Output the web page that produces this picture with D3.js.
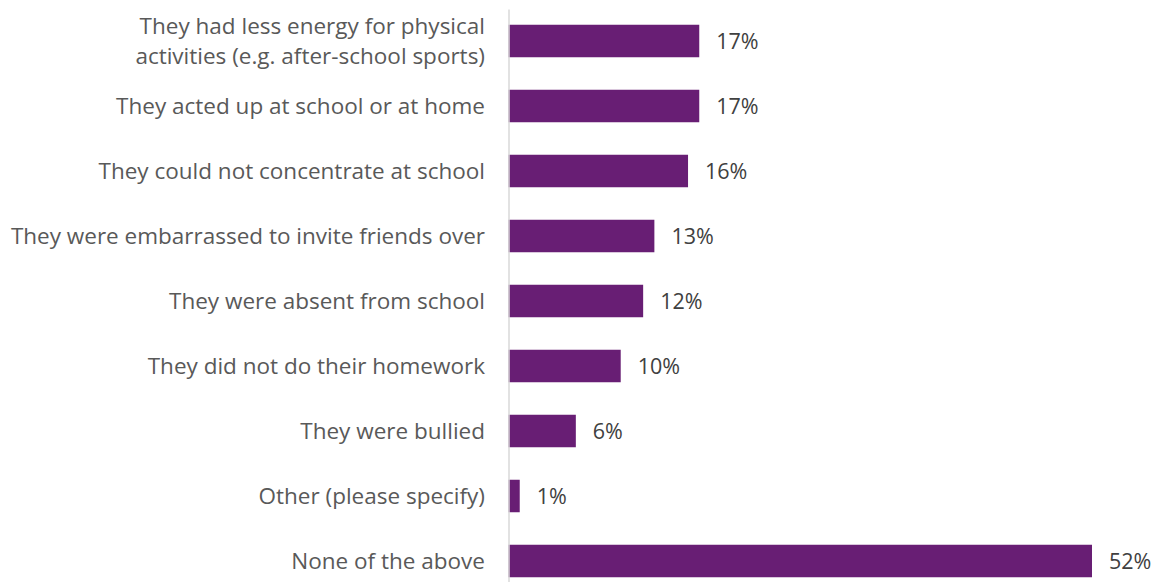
<!DOCTYPE html>
<html>
<head>
<meta charset="utf-8">
<script src="https://cdn.jsdelivr.net/npm/d3@7"></script>
<style>
  html, body { margin: 0; padding: 0; background: #ffffff; }
  svg { display: block; }
</style>
</head>
<body>
<svg id="chart" width="1161" height="582"></svg>
<script>
// Survey responses: effects on children (share of respondents)
const categories = [
  ["They had less energy for physical", "activities (e.g. after-school sports)"],
  ["They acted up at school or at home"],
  ["They could not concentrate at school"],
  ["They were embarrassed to invite friends over"],
  ["They were absent from school"],
  ["They did not do their homework"],
  ["They were bullied"],
  ["Other (please specify)"],
  ["None of the above"]
];
const values = [17, 17, 16, 13, 12, 10, 6, 1, 52];
const valueLabels = ["17%", "17%", "16%", "13%", "12%", "10%", "6%", "1%", "52%"];

const svg = d3.select("#chart");
const FONT = "'Open Sans', 'Liberation Sans', sans-serif";

const x = d3.scaleLinear().domain([0, 52]).range([508.5, 1092]);
const y = d3.scaleBand()
  .domain(d3.range(categories.length))
  .range([8.5, 593.5])
  .paddingInner(0.5)
  .paddingOuter(0.25);

// bars
svg.append("g")
  .selectAll("rect")
  .data(values)
  .join("rect")
  .attr("x", x(0))
  .attr("y", (d, i) => y(i))
  .attr("width", d => x(d) - x(0))
  .attr("height", y.bandwidth())
  .attr("fill", "#681e74");

// vertical axis line
const axis = svg.append("g")
  .attr("transform", `translate(${x(0)},0)`)
  .call(d3.axisLeft(d3.scaleLinear().range([9, 582])).ticks(0).tickSizeOuter(0));
axis.selectAll("text").remove();
axis.select(".domain").attr("stroke", "#d9d9d9").attr("stroke-width", 1.5);

// category labels
const cat = svg.append("g")
  .selectAll("text")
  .data(categories)
  .join("text")
  .attr("x", 485)
  .attr("y", (d, i) => y(i) + y.bandwidth() / 2)
  .attr("text-anchor", "end")
  .attr("font-family", FONT)
  .attr("font-size", 22.5)
  .attr("fill", "#595959");
cat.each(function(lines) {
  const t = d3.select(this);
  const lh = 30;
  const y0 = -((lines.length - 1) * lh) / 2;
  lines.forEach((ln, k) => {
    t.append("tspan")
      .attr("x", 485)
      .attr("dy", k === 0 ? y0 + 8 : lh)
      .text(ln);
  });
});

// value labels
svg.append("g")
  .selectAll("text")
  .data(values)
  .join("text")
  .attr("x", d => x(d) + 17)
  .attr("y", (d, i) => y(i) + y.bandwidth() / 2 + 8)
  .attr("font-family", FONT)
  .attr("font-size", 21.5)
  .attr("fill", "#404040")
  .text((d, i) => valueLabels[i]);
</script>
</body>
</html>
